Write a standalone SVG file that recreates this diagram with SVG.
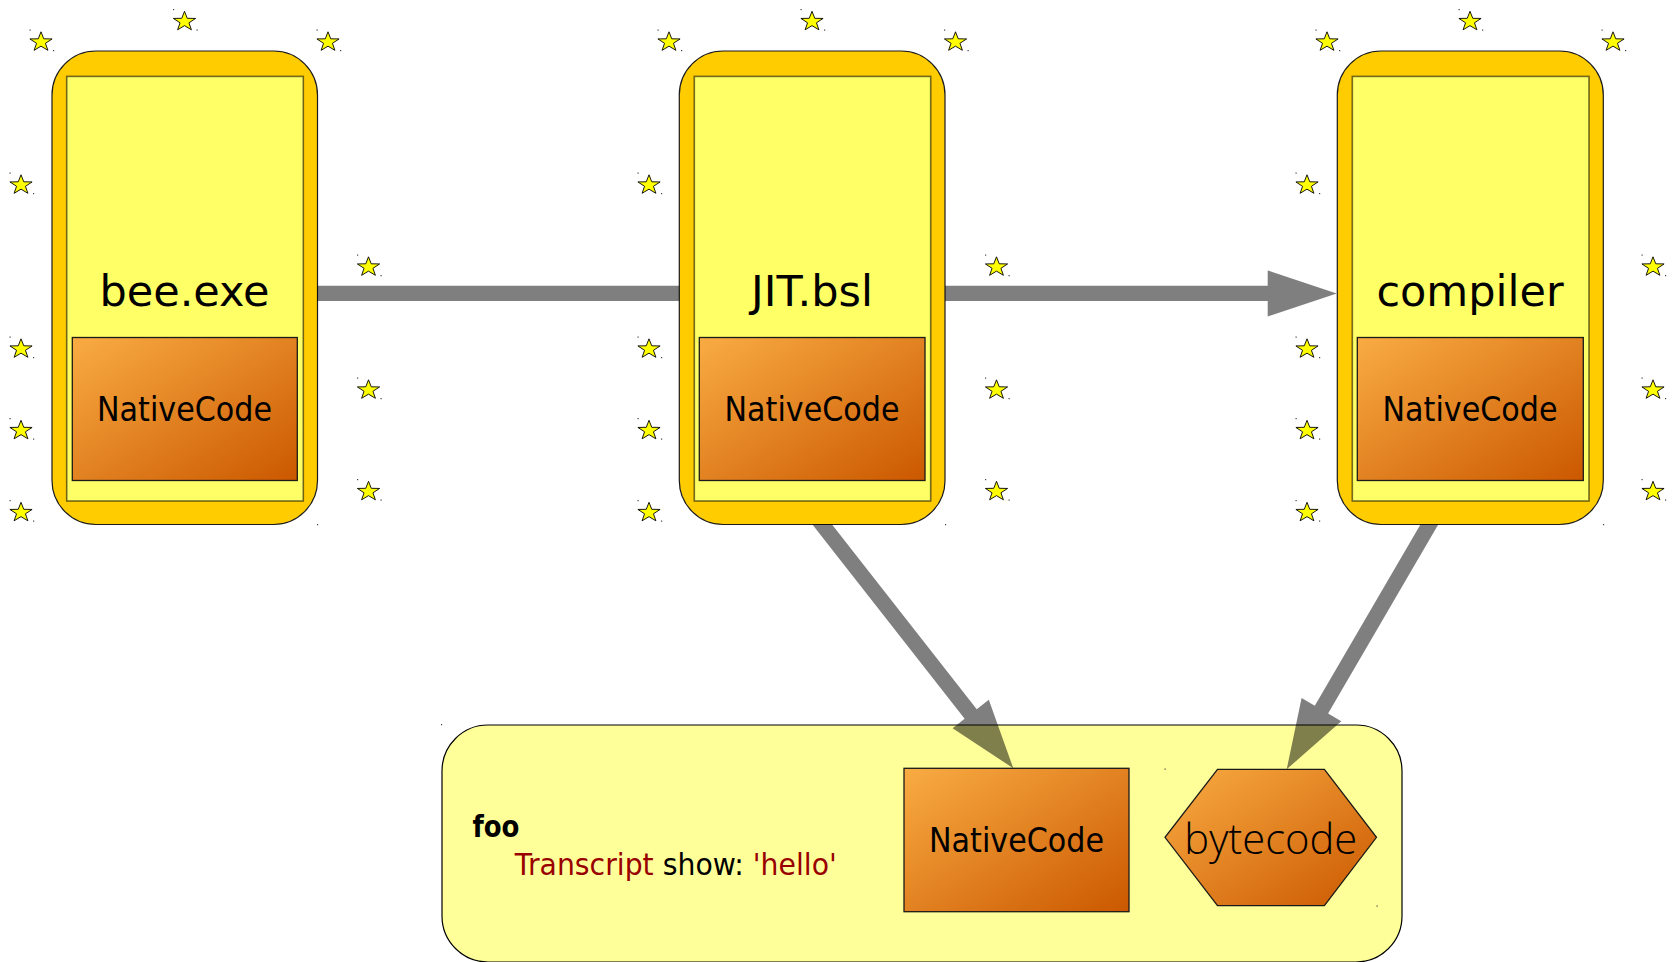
<svg xmlns="http://www.w3.org/2000/svg" xmlns:xlink="http://www.w3.org/1999/xlink" width="1672" height="962" viewBox="0 0 1672 962">
<style>
.outer{fill:#FFCC00;stroke:#1a1a1a;stroke-width:1.2}
.inner{fill:#FFFF66;stroke:#000;stroke-opacity:.55;stroke-width:1.6}
.nc{fill:url(#ncg);stroke:#1a1a1a;stroke-width:1.3}
.title{font-family:"DejaVu Sans",sans-serif;font-size:43px;fill:#000;text-anchor:middle}
.nct{font-family:"DejaVu Sans",sans-serif;font-size:33.5px;fill:#000;text-anchor:middle}
.code{font-family:"DejaVu Sans",sans-serif;font-size:29.5px;fill:#000}
.red{fill:#990000}
.star{fill:#FFFF00;stroke:#000;stroke-width:0.9;stroke-linejoin:miter}
.dot{fill:#444}
.arrow{fill:#000;fill-opacity:.5}
</style>
<defs>
<linearGradient id="ncg" x1="0" y1="0" x2="1" y2="1">
<stop offset="0" stop-color="#F9AC43"/>
<stop offset="1" stop-color="#CB5800"/>
</linearGradient>
<g id="star">
<polygon class="star" points="0,-9.2 2.75,-2.2 11.1,-2.05 4.45,2.3 6.9,9.3 0,5.15 -6.9,9.3 -4.45,2.3 -11.1,-2.05 -2.75,-2.2"/>
<rect class="dot" x="-11.5" y="-11.5" width="1.2" height="1.2"/>
<rect class="dot" x="12" y="9" width="1.2" height="1.2"/>
</g>
</defs>
<rect width="1672" height="962" fill="#FFFFFF"/>

<g id="stars">
<use href="#star" x="41" y="41"/><use href="#star" x="184.5" y="20.5"/><use href="#star" x="328" y="41"/>
<use href="#star" x="21" y="184"/><use href="#star" x="21" y="348"/><use href="#star" x="21" y="429.5"/><use href="#star" x="21" y="511.5"/>
<use href="#star" x="368.5" y="266"/><use href="#star" x="368.5" y="389"/><use href="#star" x="368.5" y="490.5"/>
<use href="#star" x="669" y="41"/><use href="#star" x="812" y="20.5"/><use href="#star" x="955.5" y="41"/>
<use href="#star" x="649" y="184"/><use href="#star" x="649" y="348"/><use href="#star" x="649" y="429.5"/><use href="#star" x="649" y="511.5"/>
<use href="#star" x="996.5" y="266"/><use href="#star" x="996.5" y="389"/><use href="#star" x="996.5" y="490.5"/>
<use href="#star" x="1327" y="41"/><use href="#star" x="1470" y="20.5"/><use href="#star" x="1613" y="41"/>
<use href="#star" x="1307" y="184"/><use href="#star" x="1307" y="348"/><use href="#star" x="1307" y="429.5"/><use href="#star" x="1307" y="511.5"/>
<use href="#star" x="1653" y="266"/><use href="#star" x="1653" y="389"/><use href="#star" x="1653" y="490.5"/>
</g>

<g id="bee-exe">
<rect class="outer" x="52" y="51" width="265.5" height="473.5" rx="44" ry="44"/>
<rect class="inner" x="66.7" y="76.4" width="236.6" height="424.6"/>
<text class="title" x="184.5" y="305.8">bee.exe</text>
<rect class="nc" x="72.3" y="337.5" width="225" height="143"/>
<text class="nct" x="184.5" y="420.8" textLength="175" lengthAdjust="spacingAndGlyphs">NativeCode</text>
<rect class="dot" x="317" y="524" width="1.2" height="1.2"/>
</g>

<g id="jit-bsl">
<rect class="outer" x="679.3" y="51" width="265.7" height="473.5" rx="44" ry="44"/>
<rect class="inner" x="694.3" y="76.4" width="236.4" height="424.6"/>
<text class="title" x="812" y="305.8">JIT.bsl</text>
<rect class="nc" x="699.3" y="337.5" width="225.7" height="143"/>
<text class="nct" x="812" y="420.8" textLength="175" lengthAdjust="spacingAndGlyphs">NativeCode</text>
<rect class="dot" x="945" y="524" width="1.2" height="1.2"/>
</g>

<g id="compiler">
<rect class="outer" x="1337.3" y="51" width="266" height="473.5" rx="44" ry="44"/>
<rect class="inner" x="1352.3" y="76.4" width="236.7" height="424.6"/>
<text class="title" x="1470" y="305.8">compiler</text>
<rect class="nc" x="1357.3" y="337.5" width="226" height="143"/>
<text class="nct" x="1470" y="420.8" textLength="175" lengthAdjust="spacingAndGlyphs">NativeCode</text>
<rect class="dot" x="1603" y="524" width="1.2" height="1.2"/>
</g>

<g id="method-foo">
<rect x="442" y="725" width="960" height="237" rx="46" ry="46" fill="#FFFF99" stroke="#000" stroke-width="1.2"/>
<rect class="dot" x="441" y="724" width="1.2" height="1.2"/>
<text class="code" x="472.4" y="836.7" font-weight="bold" font-size="28.5" textLength="47" lengthAdjust="spacingAndGlyphs">foo</text>
<text class="code" x="514.8" y="875" textLength="322" lengthAdjust="spacingAndGlyphs"><tspan class="red">Transcript</tspan> show: <tspan class="red">'hello'</tspan></text>
</g>

<g id="foo-nativecode">
<rect class="nc" x="904" y="768.3" width="225" height="143.4"/>
<text class="nct" x="1016.5" y="851.7" textLength="175" lengthAdjust="spacingAndGlyphs">NativeCode</text>
</g>

<g id="foo-bytecode">
<polygon class="nc" points="1217.5,769.3 1324.4,769.3 1376.5,837.3 1324.4,905.7 1217.5,905.7 1165,837.3"/>
<rect class="dot" x="1164.5" y="768.5" width="1.2" height="1.2"/>
<rect class="dot" x="1376.5" y="905.5" width="1.2" height="1.2"/>
<text x="1270.8" y="854" font-family="'Open Sans','Noto Sans',sans-serif" font-weight="300" font-size="42.5" text-anchor="middle" textLength="173" lengthAdjust="spacingAndGlyphs" fill="#000">bytecode</text>
</g>

<g id="connectors">
<polygon class="arrow" points="317,285.7 679.3,285.7 679.3,301.1 317,301.1"/>
<polygon class="arrow" points="945,285.7 1267.7,285.7 1267.7,270.4 1336.7,293.4 1267.7,316.4 1267.7,301.1 945,301.1"/>
<polygon class="arrow" points="812.2,524.3 964.64,718.75 952.6,728.2 1013.3,768.3 988.8,699.8 976.76,709.25 831.8,524.3"/>
<polygon class="arrow" points="1420.6,524.3 1314.8,705.8 1301.6,698.1 1286.7,769.3 1341.3,721.3 1328.1,713.6 1438.4,524.3"/>
</g>
</svg>
